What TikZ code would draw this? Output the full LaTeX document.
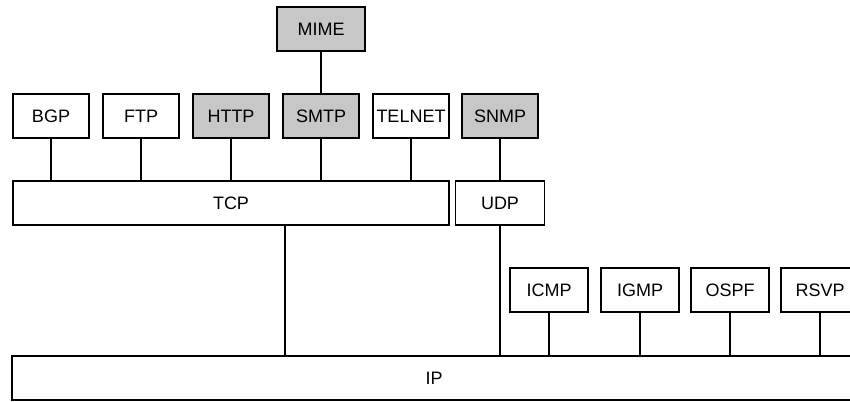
\documentclass[tikz,border=0pt]{standalone}
\usepackage{fontspec}
\setmainfont{Liberation Sans}
\usetikzlibrary{positioning}
\begin{document}
\begin{tikzpicture}[x=1pt,y=-1pt,line width=1.5pt,
  proto/.style={draw,minimum width=76pt,minimum height=44pt,inner sep=0pt,font=\fontsize{18}{20}\selectfont},
  shaded/.style={proto,fill=black!22}]
\useasboundingbox (0,0) rectangle (850,401);
% application layer
\node[shaded,minimum width=88pt] (mime) at (321,29) {MIME};
\node[proto] (bgp) at (51,116) {BGP};
\node[proto] (ftp) at (141,116) {FTP};
\node[shaded] (http) at (231,116) {HTTP};
\node[shaded] (smtp) at (321,116) {SMTP};
\node[proto] (telnet) at (411,116) {TELNET};
\node[shaded] (snmp) at (500,116) {SNMP};
% transport layer
\node[proto,minimum width=436pt] (tcp) at (231,203) {TCP};
\node[proto,minimum width=89pt] (udp) at (500,203) {UDP};
% beside ip
\node[proto,minimum width=78pt] (icmp) at (549,290) {ICMP};
\node[proto,minimum width=78pt] (igmp) at (640,290) {IGMP};
\node[proto,minimum width=78pt] (ospf) at (730,290) {OSPF};
\node[proto,minimum width=78pt] (rsvp) at (820,290) {RSVP};
% network layer
\node[proto,minimum width=844pt] (ip) at (434,378) {IP};
% links
\draw (mime.south) -- (smtp.north);
\foreach \p in {bgp,ftp,http,smtp,telnet} \draw (\p.south) -- (\p.south |- tcp.north);
\draw (snmp.south) -- (udp.north);
\draw ([xshift=54pt]tcp.south) coordinate (tcpout) -- (tcpout |- ip.north);
\draw (udp.south) -- (udp.south |- ip.north);
\foreach \p in {icmp,igmp,ospf,rsvp} \draw (\p.south) -- (\p.south |- ip.north);
\end{tikzpicture}
\end{document}
